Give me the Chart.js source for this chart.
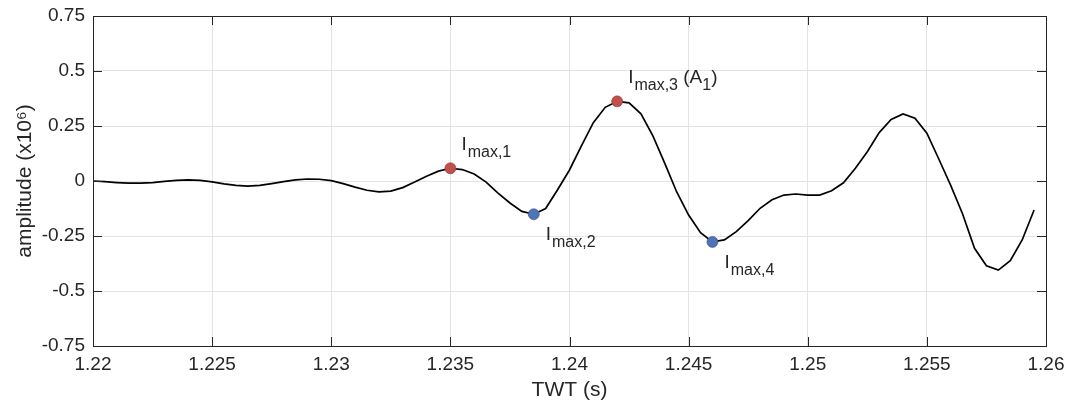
<!DOCTYPE html>
<html>
<head>
<meta charset="utf-8">
<script src="https://cdn.jsdelivr.net/npm/chart.js@4.4.1/dist/chart.umd.min.js"></script>
<style>
  body { margin: 0; background: #fff; }
  canvas { display: block; }
</style>
</head>
<body>
<canvas id="trace" width="1068" height="403"></canvas>
<script>
// trace samples (TWT in s, amplitude x10^6)
const twt = [
  1.2200, 1.2205, 1.2210, 1.2215, 1.2220, 1.2225, 1.2230, 1.2235, 1.2240, 1.2245,
  1.2250, 1.2255, 1.2260, 1.2265, 1.2270, 1.2275, 1.2280, 1.2285, 1.2290, 1.2295,
  1.2300, 1.2305, 1.2310, 1.2315, 1.2320, 1.2325, 1.2330, 1.2335, 1.2340, 1.2345,
  1.2350, 1.2355, 1.2360, 1.2365, 1.2370, 1.2375, 1.2380, 1.2385, 1.2390, 1.2395,
  1.2400, 1.2405, 1.2410, 1.2415, 1.2420, 1.2425, 1.2430, 1.2435, 1.2440, 1.2445,
  1.2450, 1.2455, 1.2460, 1.2465, 1.2470, 1.2475, 1.2480, 1.2485, 1.2490, 1.2495,
  1.2500, 1.2505, 1.2510, 1.2515, 1.2520, 1.2525, 1.2530, 1.2535, 1.2540, 1.2545,
  1.2550, 1.2555, 1.2560, 1.2565, 1.2570, 1.2575, 1.2580, 1.2585, 1.2590, 1.2595
];
const amplitude = [
  0.000, -0.003, -0.007, -0.010, -0.010, -0.007, -0.002, 0.003, 0.005, 0.003,
  -0.004, -0.013, -0.020, -0.023, -0.020, -0.012, -0.003, 0.005, 0.009, 0.008,
  0.002, -0.012, -0.028, -0.042, -0.049, -0.046, -0.030, -0.005, 0.022, 0.045,
  0.058, 0.052, 0.032, -0.005, -0.055, -0.100, -0.138, -0.151, -0.125, -0.040,
  0.050, 0.160, 0.265, 0.335, 0.362, 0.355, 0.305, 0.205, 0.080, -0.050,
  -0.155, -0.235, -0.277, -0.268, -0.230, -0.180, -0.124, -0.085, -0.064, -0.059,
  -0.064, -0.064, -0.044, -0.008, 0.058, 0.133, 0.220, 0.280, 0.305, 0.285,
  0.217, 0.100, -0.020, -0.150, -0.306, -0.385, -0.405, -0.362, -0.268, -0.132
];

// picked extrema
const peakT = [1.2350, 1.2420];
const peakA = [0.058, 0.362];
const peakNames = ["max,1", "max,3"];
const troughT = [1.2385, 1.2460];
const troughA = [-0.151, -0.277];
const troughNames = ["max,2", "max,4"];

const xTicks = [1.22, 1.225, 1.23, 1.235, 1.24, 1.245, 1.25, 1.255, 1.26];
const yTicks = [-0.75, -0.5, -0.25, 0, 0.25, 0.5, 0.75];

const FONT = "'Liberation Sans', Arial, Helvetica, sans-serif";
const TXT = "#262626";
const GRID = "#e3e3e3";

const toXY = (xs, ys) => xs.map((x, i) => ({ x: x, y: ys[i] }));

// frame, inward ticks, and I_max labels
const matlabBox = {
  id: "matlabBox",
  afterDatasetsDraw(chart) {
    const { ctx, chartArea: a, scales } = chart;
    const len = 9;
    ctx.save();
    ctx.strokeStyle = TXT;
    ctx.lineWidth = 1;
    ctx.beginPath();
    xTicks.forEach(v => {
      const px = Math.round(scales.x.getPixelForValue(v)) + 0.5;
      ctx.moveTo(px, a.bottom); ctx.lineTo(px, a.bottom - len);
      ctx.moveTo(px, a.top); ctx.lineTo(px, a.top + len);
    });
    yTicks.forEach(v => {
      const py = Math.round(scales.y.getPixelForValue(v)) + 0.5;
      ctx.moveTo(a.left, py); ctx.lineTo(a.left + len, py);
      ctx.moveTo(a.right, py); ctx.lineTo(a.right - len, py);
    });
    ctx.stroke();
    ctx.strokeRect(Math.round(a.left) + 0.5, Math.round(a.top) + 0.5,
      Math.round(a.right - a.left), Math.round(a.bottom - a.top));

    const big = "19px " + FONT;
    const small = "16px " + FONT;
    const drawLabel = (px, py, sub, tail) => {
      ctx.fillStyle = TXT;
      ctx.textBaseline = "alphabetic";
      ctx.textAlign = "left";
      let x = px;
      ctx.font = big;
      ctx.fillText("I", x, py);
      x += ctx.measureText("I").width + 1;
      ctx.font = small;
      ctx.fillText(sub, x, py + 7);
      x += ctx.measureText(sub).width;
      if (tail) {
        ctx.font = big;
        ctx.fillText(" (A", x, py);
        x += ctx.measureText(" (A").width;
        ctx.font = small;
        ctx.fillText("1", x, py + 7);
        x += ctx.measureText("1").width;
        ctx.font = big;
        ctx.fillText(")", x, py);
      }
    };
    peakT.forEach((t, i) => {
      const px = scales.x.getPixelForValue(t);
      const py = scales.y.getPixelForValue(peakA[i]);
      drawLabel(px + 11, py - 18, peakNames[i], i === 1);
    });
    troughT.forEach((t, i) => {
      const px = scales.x.getPixelForValue(t);
      const py = scales.y.getPixelForValue(troughA[i]);
      drawLabel(px + 12, py + 26, troughNames[i], false);
    });
    ctx.restore();
  }
};

new Chart(document.getElementById("trace"), {
  type: "line",
  data: {
    datasets: [
      {
        data: toXY(peakT, peakA),
        showLine: false,
        pointRadius: 5.5,
        pointBackgroundColor: "#c0504d",
        pointBorderColor: "#8a3633",
        pointBorderWidth: 0.6,
        order: 0
      },
      {
        data: toXY(troughT, troughA),
        showLine: false,
        pointRadius: 5.5,
        pointBackgroundColor: "#4f73b6",
        pointBorderColor: "#344f80",
        pointBorderWidth: 0.6,
        order: 0
      },
      {
        data: toXY(twt, amplitude),
        borderColor: "#000",
        borderWidth: 1.7,
        pointRadius: 0,
        tension: 0,
        fill: false,
        order: 1
      }
    ]
  },
  options: {
    responsive: false,
    animation: false,
    devicePixelRatio: 1,
    layout: { padding: { top: 16, right: 22, left: 0, bottom: 0 } },
    plugins: { legend: { display: false }, tooltip: { enabled: false } },
    scales: {
      x: {
        type: "linear",
        min: 1.22,
        max: 1.26,
        afterBuildTicks: s => { s.ticks = xTicks.map(v => ({ value: v })); },
        afterFit: s => { s.height = 57; s.paddingLeft = 0; s.paddingRight = 0; },
        grid: { color: GRID, drawTicks: false },
        border: { display: false },
        ticks: {
          padding: 7,
          color: TXT,
          font: { family: FONT, size: 19 },
          maxRotation: 0,
          callback: v => String(v)
        },
        title: {
          display: true,
          text: "TWT (s)",
          color: TXT,
          font: { family: FONT, size: 21 },
          padding: { top: 0, bottom: 0 }
        }
      },
      y: {
        min: -0.75,
        max: 0.75,
        afterBuildTicks: s => { s.ticks = yTicks.map(v => ({ value: v })); },
        afterFit: s => { s.width = 93; s.paddingTop = 0; s.paddingBottom = 0; },
        grid: { color: GRID, drawTicks: false },
        border: { display: false },
        ticks: {
          padding: 8,
          color: TXT,
          font: { family: FONT, size: 19 },
          callback: v => String(v)
        },
        title: {
          display: true,
          text: "amplitude (x10\u2076)",
          color: TXT,
          font: { family: FONT, size: 21 },
          padding: { top: 13, bottom: 0 }
        }
      }
    }
  },
  plugins: [matlabBox]
});
</script>
</body>
</html>
